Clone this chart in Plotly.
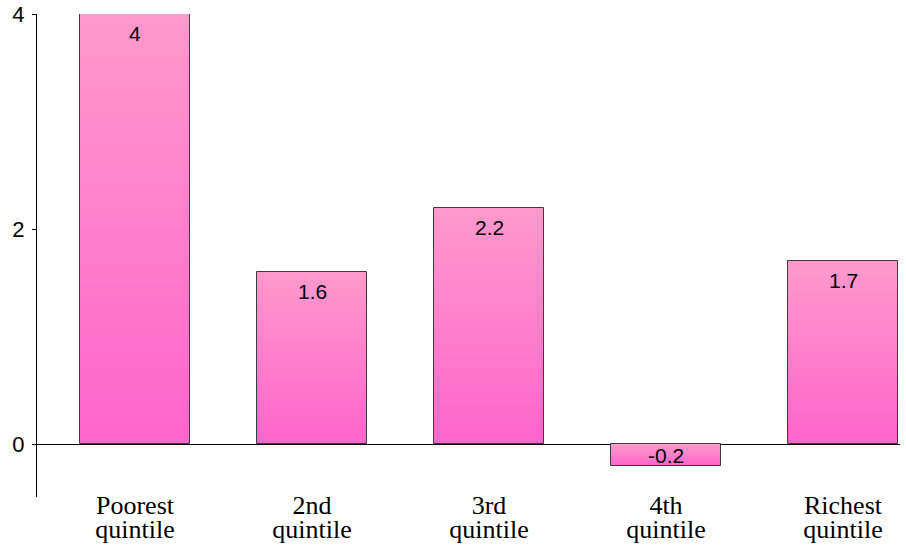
import numpy as np
import plotly.graph_objects as go

categories = ["Poorest quintile", "2nd quintile", "3rd quintile", "4th quintile", "Richest quintile"]
values = [4.0, 1.6, 2.2, -0.2, 1.7]
y_ticks = [0, 2, 4]

line1 = [c.split(" ", 1)[0] for c in categories]
line2 = [c.split(" ", 1)[1] for c in categories]
pos = np.arange(len(categories))

TOP_COLOR = np.array([255, 153, 204])
BOTTOM_COLOR = np.array([255, 102, 204])
NSEG = 40
SANS = "Liberation Sans, Arial, sans-serif"
SERIF = "Liberation Serif, Times New Roman, serif"

fig = go.Figure()

lo = np.minimum(0, values)
hi = np.maximum(0, values)
span = hi - lo
for k in range(NSEG):
    t = k / (NSEG - 1)
    col = BOTTOM_COLOR + (TOP_COLOR - BOTTOM_COLOR) * t
    base = lo + span * k / NSEG
    h = np.minimum(span / NSEG * 1.6, hi - base)
    fig.add_trace(go.Bar(
        x=pos, y=h, base=base, width=0.62,
        marker=dict(color="rgb(%d,%d,%d)" % tuple(col.astype(int)), line=dict(width=0)),
        hoverinfo="skip", showlegend=False,
    ))

# outline of each bar (on the second x axis so that axis renders its labels)
fig.add_trace(go.Bar(
    x=pos, y=values, width=0.62, xaxis="x2",
    marker=dict(color="rgba(0,0,0,0)", line=dict(color="#3c3c3c", width=1)),
    showlegend=False,
))

# value labels
for p, v in zip(pos, values):
    fig.add_annotation(
        x=p, y=max(v, 0), xref="x", yref="y", text=f"{v:g}",
        showarrow=False, yanchor="top", yshift=(-6 if v > 0 else 2),
        font=dict(family=SANS, size=21, color="black"),
    )

xr = [(37 - 135) / 177, (900 - 135) / 177]
fig.update_layout(
    width=906, height=550,
    margin=dict(l=37, r=6, t=14, b=53, autoexpand=False),
    paper_bgcolor="white", plot_bgcolor="white",
    barmode="overlay", bargap=0,
    xaxis=dict(
        range=xr, tickmode="array", tickvals=pos, ticktext=line1,
        showgrid=False, zeroline=False, showline=False, ticks="",
        anchor="free", position=10 / 483, automargin=False,
        tickfont=dict(family=SERIF, size=26, color="black"),
    ),
    xaxis2=dict(
        range=xr, tickmode="array", tickvals=pos, ticktext=line2,
        showgrid=False, zeroline=False, showline=False, ticks="",
        anchor="free", position=10 / 483, overlaying="x", side="bottom",
        ticklabelstandoff=24, automargin=False,
        tickfont=dict(family=SERIF, size=26, color="black"),
    ),
    yaxis=dict(
        range=[-0.493, 4.0], tickmode="array", tickvals=y_ticks,
        showgrid=False, zeroline=True, zerolinecolor="black", zerolinewidth=1,
        showline=True, linecolor="black", linewidth=1,
        ticks="outside", ticklen=4, tickcolor="black", tickwidth=1,
        ticklabelstandoff=3, automargin=False,
        tickfont=dict(family=SANS, size=22, color="black"),
    ),
)

fig.write_html("out.html")
